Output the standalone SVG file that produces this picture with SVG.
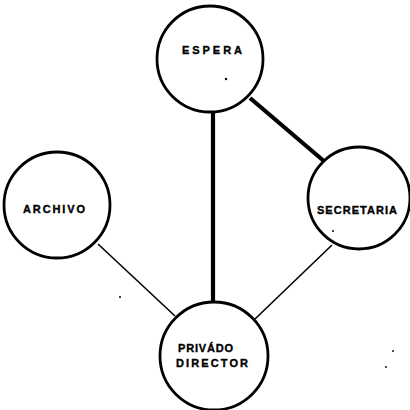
<svg xmlns="http://www.w3.org/2000/svg" width="410" height="410" viewBox="0 0 410 410">
<style>
.node{fill:#fff;stroke:#000;stroke-width:2.8}
.lbl{font-family:"Liberation Sans",Arial,sans-serif;font-weight:bold;font-size:11px;fill:#000;stroke:#000;stroke-width:0.35}
.thick{stroke:#000;stroke-width:4.2;stroke-linecap:butt}
.thin{stroke:#000;stroke-width:1.6}
.speck{fill:#000}
</style>
<rect width="410" height="410" fill="#fff"/>
<g id="connectors">
<line class="thick" x1="250" y1="98" x2="325" y2="162"/>
<line class="thick" x1="213" y1="110" x2="213" y2="304"/>
<line class="thin" x1="98" y1="244" x2="175" y2="316"/>
<line class="thin" x1="332" y1="245" x2="255" y2="319"/>
</g>
<g id="espera">
<circle class="node" cx="210" cy="59" r="53"/>
<text class="lbl" x="182" y="54" textLength="60" lengthAdjust="spacing">ESPERA</text>
</g>
<g id="archivo">
<circle class="node" cx="57" cy="205" r="53"/>
<text class="lbl" x="23" y="213" textLength="62" lengthAdjust="spacing">ARCHIVO</text>
</g>
<g id="secretaria">
<circle class="node" cx="359" cy="198" r="51"/>
<text class="lbl" x="317" y="214" textLength="80" lengthAdjust="spacing">SECRETARIA</text>
</g>
<g id="privado-director">
<circle class="node" cx="214" cy="356" r="54"/>
<text class="lbl" x="178" y="352" textLength="55" lengthAdjust="spacing">PRIVÁDO</text>
<text class="lbl" x="176" y="367" textLength="72" lengthAdjust="spacing">DIRECTOR</text>
</g>
<g id="specks">
<circle class="speck" cx="226" cy="79" r="1.2"/>
<circle class="speck" cx="333" cy="231" r="1"/>
<circle class="speck" cx="120" cy="297" r="1"/>
<circle class="speck" cx="393" cy="351" r="0.9"/>
<circle class="speck" cx="386" cy="367" r="0.9"/>
</g>
</svg>
